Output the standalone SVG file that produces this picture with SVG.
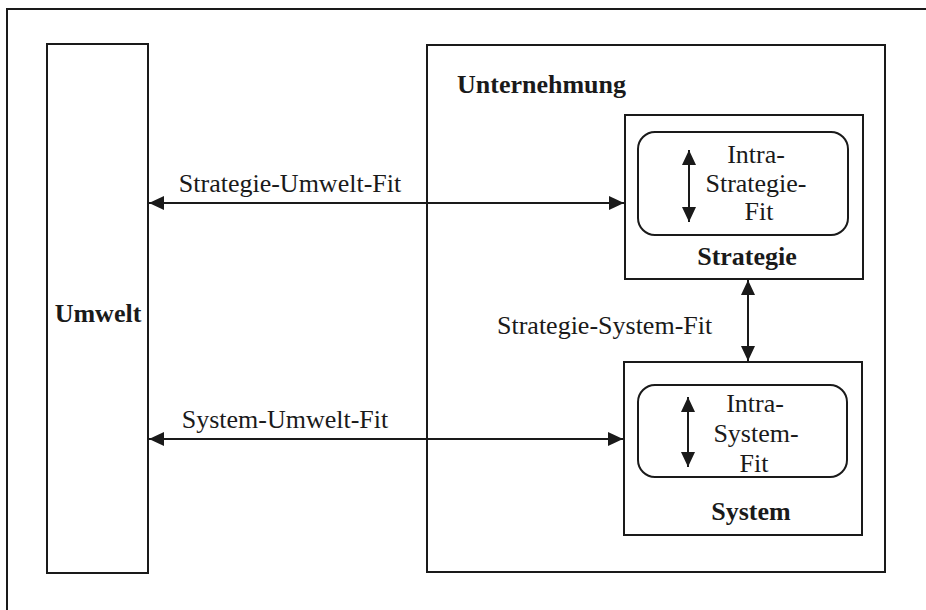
<svg xmlns="http://www.w3.org/2000/svg" width="926" height="610" viewBox="0 0 926 610">
<style>
.box{fill:none;stroke:#1a1a1a;stroke-width:2}
.conn{fill:none;stroke:#1a1a1a;stroke-width:2}
.t{font-family:"Liberation Serif","Times New Roman",serif;font-size:26px;fill:#1a1a1a}
.b{font-weight:bold}
</style>
<defs>
<marker id="ah" viewBox="0 0 15 14" refX="15" refY="7" markerWidth="15" markerHeight="14" markerUnits="userSpaceOnUse" orient="auto-start-reverse">
<path d="M0,0 L15,7 L0,14 z" fill="#1a1a1a"/>
</marker>
</defs>
<rect x="0" y="0" width="926" height="610" fill="#ffffff"/>
<rect id="frame" class="box" x="7" y="9" width="940" height="640"/>
<g id="umwelt">
<rect class="box" x="47" y="44" width="101" height="529"/>
<text class="t b" x="98" y="322" text-anchor="middle">Umwelt</text>
</g>
<g id="unternehmung">
<rect class="box" x="427" y="45" width="458" height="527"/>
<text class="t b" x="457" y="93">Unternehmung</text>
</g>
<g id="strategie">
<rect class="box" x="625" y="115" width="238" height="164"/>
<text class="t b" x="747" y="265" text-anchor="middle">Strategie</text>
</g>
<g id="intra-strategie-fit">
<rect class="box" x="638" y="132" width="210" height="103" rx="17"/>
<line class="conn" x1="689" y1="150" x2="689" y2="222" marker-start="url(#ah)" marker-end="url(#ah)"/>
<text class="t" x="756" y="163" text-anchor="middle">Intra-</text>
<text class="t" x="756" y="192" text-anchor="middle">Strategie-</text>
<text class="t" x="759" y="220" text-anchor="middle">Fit</text>
</g>
<g id="system">
<rect class="box" x="624" y="362" width="238" height="173"/>
<text class="t b" x="751" y="520" text-anchor="middle">System</text>
</g>
<g id="intra-system-fit">
<rect class="box" x="638" y="385" width="209" height="92" rx="17"/>
<line class="conn" x1="688" y1="397" x2="688" y2="467" marker-start="url(#ah)" marker-end="url(#ah)"/>
<text class="t" x="755" y="412" text-anchor="middle">Intra-</text>
<text class="t" x="756" y="442" text-anchor="middle">System-</text>
<text class="t" x="754" y="472" text-anchor="middle">Fit</text>
</g>
<g id="connectors">
<line class="conn" x1="149" y1="203" x2="624" y2="203" marker-start="url(#ah)" marker-end="url(#ah)"/>
<text class="t" x="290" y="192" text-anchor="middle">Strategie-Umwelt-Fit</text>
<line class="conn" x1="149" y1="439" x2="623" y2="439" marker-start="url(#ah)" marker-end="url(#ah)"/>
<text class="t" x="285" y="428" text-anchor="middle">System-Umwelt-Fit</text>
<line class="conn" x1="748" y1="280" x2="748" y2="361" marker-start="url(#ah)" marker-end="url(#ah)"/>
<text class="t" x="497" y="334">Strategie-System-Fit</text>
</g>
</svg>
